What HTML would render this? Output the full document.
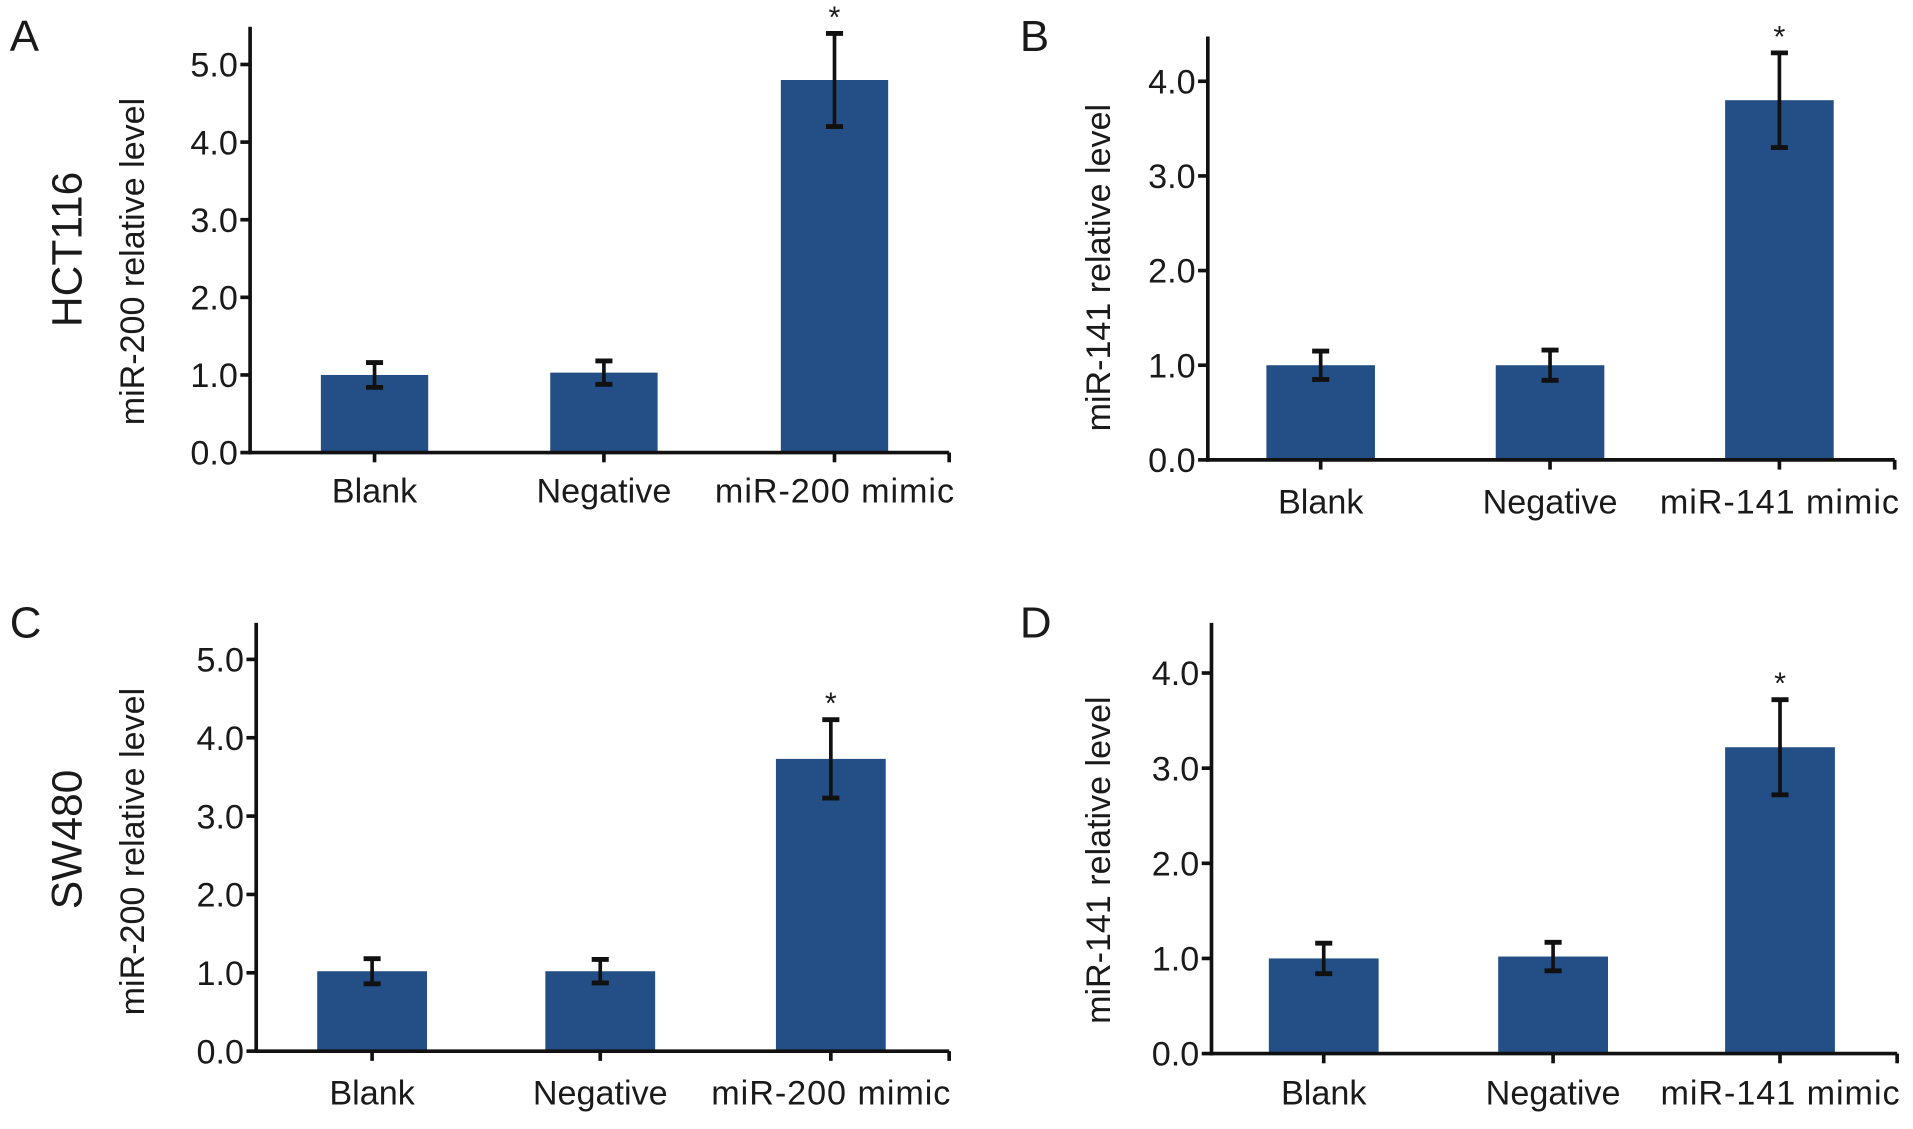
<!DOCTYPE html>
<html><head><meta charset="utf-8"><style>
html,body{margin:0;padding:0;background:#fff;}
svg{display:block;}
text{font-family:"Liberation Sans",Arial,sans-serif;fill:#1a1a1a;}
</style></head><body>
<svg id="fig" width="1913" height="1129" viewBox="0 0 1568 928" preserveAspectRatio="none" xmlns="http://www.w3.org/2000/svg"></svg>
<script>
const categoriesA = ["Blank","Negative","miR-200 mimic"];
const valuesA = [1.0, 1.03, 4.8];
const errorsA = [0.16, 0.15, 0.6];
const ticksA = [0,1,2,3,4,5];
const categoriesB = ["Blank","Negative","miR-141 mimic"];
const valuesB = [1.0, 1.0, 3.8];
const errorsB = [0.15, 0.16, 0.5];
const ticksB = [0,1,2,3,4];
const categoriesC = ["Blank","Negative","miR-200 mimic"];
const valuesC = [1.02, 1.02, 3.73];
const errorsC = [0.16, 0.15, 0.5];
const ticksC = [0,1,2,3,4,5];
const categoriesD = ["Blank","Negative","miR-141 mimic"];
const valuesD = [1.0, 1.02, 3.22];
const errorsD = [0.16, 0.15, 0.5];
const ticksD = [0,1,2,3,4];
const starsA = [false,false,true], starsB=[false,false,true], starsC=[false,false,true], starsD=[false,false,true];

const NS="http://www.w3.org/2000/svg";
const svg=document.getElementById('fig');
function el(tag,attrs,parent){const e=document.createElementNS(NS,tag);for(const k in attrs)e.setAttribute(k,attrs[k]);(parent||svg).appendChild(e);return e;}

const panels=[
 {id:'a',letter:'A',lx:8,ly:42,ax:205,top:22,y0:372,unit:63.8,xend:778,barX:[263,451,640],bw:88,labY:413,yTitle:'miR-200 relative level',ytx:118,yty:215,cell:'HCT116',cx:67,cy:205,cats:categoriesA,vals:valuesA,errs:errorsA,ticks:ticksA,stars:starsA},
 {id:'b',letter:'B',lx:836,ly:42,ax:990,top:30,y0:378,unit:77.8,xend:1553,barX:[1038,1226,1414],bw:89,labY:422,yTitle:'miR-141 relative level',ytx:910,yty:220,cell:null,cats:categoriesB,vals:valuesB,errs:errorsB,ticks:ticksB,stars:starsB},
 {id:'c',letter:'C',lx:8,ly:524,ax:210,top:512,y0:864,unit:64.4,xend:778,barX:[260,447,636],bw:90,labY:908,yTitle:'miR-200 relative level',ytx:118,yty:700,cell:'SW480',cx:67,cy:690,cats:categoriesC,vals:valuesC,errs:errorsC,ticks:ticksC,stars:starsC},
 {id:'d',letter:'D',lx:836,ly:524,ax:993,top:512,y0:866,unit:78.2,xend:1555,barX:[1040,1228,1414],bw:90,labY:908,yTitle:'miR-141 relative level',ytx:910,yty:707,cell:null,cats:categoriesD,vals:valuesD,errs:errorsD,ticks:ticksD,stars:starsD}
];

panels.forEach(p=>{
 const g=el('g',{});
 
 
 const yS=v=>p.y0-v*p.unit;
 const L=el('text',{x:p.lx,y:p.ly,'font-size':36},g);L.textContent=p.letter;
 
 
 if(p.cell){const c=el('text',{x:p.cx,y:p.cy,'font-size':35,'text-anchor':'middle',transform:`rotate(-90 ${p.cx} ${p.cy})`},g);c.textContent=p.cell;
  
  }
 const yt=el('text',{x:p.ytx,y:p.yty,'font-size':28,'text-anchor':'middle',transform:`rotate(-90 ${p.ytx} ${p.yty})`},g);yt.textContent=p.yTitle;
 
 
 p.vals.forEach((v,i)=>{
  const x=p.barX[i];
  const r=el('rect',{x:x,y:yS(v),width:p.bw,height:p.y0-yS(v),fill:'#234f86'},g);
  
  
  const cx=x+p.bw/2,e=p.errs[i];
  const eg=el('g',{stroke:'#111','stroke-width':3},g);
  
  
  el('line',{x1:cx,x2:cx,y1:yS(v+e),y2:yS(v-e)},eg);
  el('line',{x1:cx-7,x2:cx+7,y1:yS(v+e),y2:yS(v+e),'stroke-width':4},eg);
  el('line',{x1:cx-7,x2:cx+7,y1:yS(v-e),y2:yS(v-e),'stroke-width':4},eg);
  if(p.stars[i]){const s=el('text',{x:cx,y:yS(v+e)-5,'font-size':25,'text-anchor':'middle'},g);s.textContent='*';
   
   }
  el('line',{x1:cx,x2:cx,y1:p.y0,y2:p.y0+8,stroke:'#111','stroke-width':3},g);
  const t=el('text',{x:cx,y:p.labY,'font-size':28,'text-anchor':'middle',textLength:p.cats[i].length>8?196:null},g);
  if(p.cats[i].length<=8)t.removeAttribute('textLength');
  t.textContent=p.cats[i];
  
  
 });
 const ya=el('line',{x1:p.ax,x2:p.ax,y1:p.top,y2:p.y0+1.5,stroke:'#111','stroke-width':3},g);
 
 
 const xa=el('line',{x1:p.ax-1.5,x2:p.xend,y1:p.y0,y2:p.y0,stroke:'#111','stroke-width':3},g);
 
 
 el('line',{x1:p.xend,x2:p.xend,y1:p.y0,y2:p.y0+8,stroke:'#111','stroke-width':3},g);
 p.ticks.forEach(t=>{
  el('line',{x1:p.ax-8,x2:p.ax,y1:yS(t),y2:yS(t),stroke:'#111','stroke-width':3},g);
  const tl=el('text',{x:p.ax-10,y:yS(t)+10,'font-size':28,'text-anchor':'end'},g);tl.textContent=t.toFixed(1);
  
  
 });
});
</script>
</body></html>
